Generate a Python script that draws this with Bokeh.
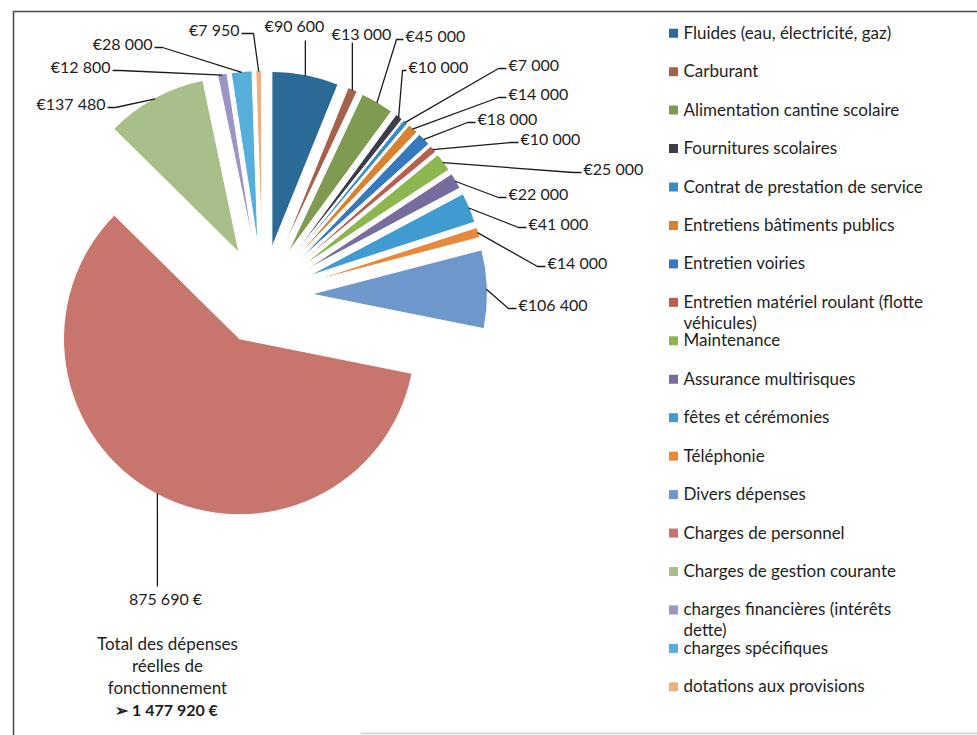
import math
import textwrap
from bokeh.plotting import figure
from bokeh.models import Range1d
from bokeh.core.properties import value
from bokeh.embed import file_html
from bokeh.resources import INLINE

# ---------------- data ----------------
categories = [
    "Fluides (eau, électricité, gaz)",
    "Carburant",
    "Alimentation cantine scolaire",
    "Fournitures scolaires",
    "Contrat de prestation de service",
    "Entretiens bâtiments publics",
    "Entretien voiries",
    "Entretien matériel roulant (flotte véhicules)",
    "Maintenance",
    "Assurance multirisques",
    "fêtes et cérémonies",
    "Téléphonie",
    "Divers dépenses",
    "Charges de personnel",
    "Charges de gestion courante",
    "charges financières (intérêts dette)",
    "charges spécifiques",
    "dotations aux provisions",
]
amounts = [90600, 13000, 45000, 10000, 7000, 14000, 18000, 10000, 25000,
           22000, 41000, 14000, 106400, 875690, 137480, 12800, 28000, 7950]
colors = ["#2B6A96", "#A4614B", "#7F9B52", "#3B3D4A", "#3A8CC2", "#D8822F",
          "#3779BE", "#B85F50", "#8DB550", "#766D9E", "#409BD0", "#E8883A",
          "#6E98CC", "#C8756D", "#A8BF8A", "#9A95C3", "#56AEDB", "#EFAF80"]
total_lines = ["Total des dépenses", "réelles de", "fonctionnement"]

# ---------------- layout (reference pixel coordinates) ----------------
W, H = 977, 735
def px(X):
    return X
def py(Y):
    return H - Y

CX, CY = 262, 295      # pie centre
EXPL = 49              # explosion distance
RAD = 176              # slice radius

# label layout: (text x, text y, align, stub / line-end y)
label_layout = [
    (294, 25, "center", 40),
    (361, 33, "center", 42),
    (405, 35, "left", 7),
    (408, 66, "left", 4),
    (508, 64, "left", 8),
    (508, 93, "left", 8),
    (477, 118, "left", 8),
    (520, 138, "left", 8),
    (583, 168, "left", 8),
    (508, 193, "left", 8),
    (528, 223, "left", 8),
    (547, 262, "left", 8),
    (518, 304, "left", 8),
    (165, 598, "center", 586),
    (105, 103, "right", 8),
    (110, 66, "right", 8),
    (152, 43, "right", 8),
    (239, 29, "right", 12),
]

FONT = value("Lato")
TXT = "#1e1e1e"

p = figure(width=W, height=H, x_range=Range1d(0, W), y_range=Range1d(0, H),
           output_backend="svg", toolbar_location=None,
           x_axis_location=None, y_axis_location=None,
           min_border=0, outline_line_color=None)
p.grid.grid_line_color = None
p.background_fill_color = "white"
p.border_fill_color = "white"

# ---------------- pie ----------------
total = sum(amounts)
cum = 0
ax, ay, sa, ea, mids = [], [], [], [], []
for v in amounts:
    a0 = cum / total * 360.0
    cum += v
    a1 = cum / total * 360.0
    mid = (a0 + a1) / 2
    m = math.radians(90 - mid)
    ax.append(px(CX) + EXPL * math.cos(m))
    ay.append(py(CY) + EXPL * math.sin(m))
    sa.append(math.radians(90 - a1))
    ea.append(math.radians(90 - a0))
    mids.append(m)

p.wedge(x=ax, y=ay, radius=RAD, start_angle=sa, end_angle=ea,
        direction="anticlock", fill_color=colors, line_color="white",
        line_width=1)

# ---------------- data labels & leader lines ----------------
def fmt(v, i):
    s = f"{v:,}".replace(",", " ")
    return f"{s} €" if i == 13 else f"€{s}"

xs, ys = [], []
for i, (v, m, (tx, ty, al, st)) in enumerate(zip(amounts, mids, label_layout)):
    sx = px(CX) + (EXPL + RAD - 1) * math.cos(m)
    sy = py(CY) + (EXPL + RAD - 1) * math.sin(m)
    if al == "center":
        xs.append([sx, sx]); ys.append([sy, py(st)])
    elif al == "left":
        ex, ey = px(tx - 2), py(ty + 4)
        xs.append([sx, ex - st, ex]); ys.append([sy, ey, ey])
    else:
        ex, ey = px(tx + 2), py(ty + 4)
        xs.append([sx, ex + st, ex]); ys.append([sy, ey, ey])
    p.text(x=[px(tx)], y=[py(ty)], text=[fmt(v, i)], text_font=FONT,
           text_font_size="16px", text_align=al, text_baseline="middle",
           text_color=TXT)
p.multi_line(xs=xs, ys=ys, line_color="#1a1a1a", line_width=1.3)

# ---------------- total block ----------------
for k, t in enumerate(total_lines):
    p.text(x=[px(167)], y=[py(643 + 22 * k)], text=[t], text_font=FONT,
           text_font_size="17px", text_align="center", text_baseline="middle",
           text_color=TXT)
tot = f"{total:,}".replace(",", " ")
p.text(x=[px(166)], y=[py(709)], text=[f"➢ {tot} €"], text_font=FONT,
       text_font_size="16px", text_font_style="bold", text_align="center",
       text_baseline="middle", text_color=TXT)

# ---------------- legend ----------------
for i, (cat, col) in enumerate(zip(categories, colors)):
    y0 = 31.7 + 38.45 * i
    p.rect(x=[px(673)], y=[py(y0 + 1)], width=9, height=9, fill_color=col,
           line_color=None)
    for k, line in enumerate(textwrap.wrap(cat, 34)):
        p.text(x=[px(683)], y=[py(y0 + 21 * k)], text=[line], text_font=FONT,
               text_font_size="17px", text_align="left",
               text_baseline="middle", text_color=TXT)

# ---------------- frame ----------------
p.multi_line(xs=[[px(13), px(13), px(977)], [px(360), px(977)]],
             ys=[[py(735), py(11), py(11)], [py(733), py(733)]],
             line_color=["#4a4a4a", "#d0d0d0"], line_width=1.5)

open("out.html", "w").write(file_html(p, INLINE))
